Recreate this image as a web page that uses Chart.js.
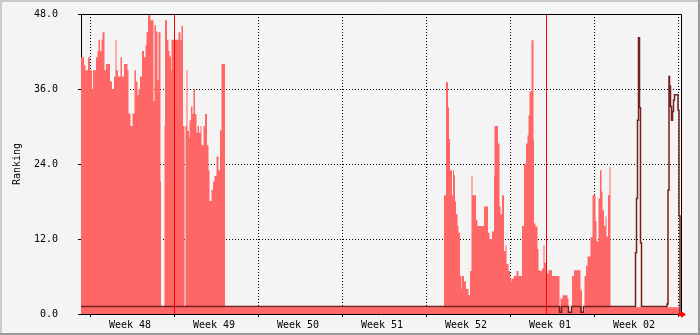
<!DOCTYPE html>
<html>
<head>
<meta charset="utf-8">
<title>Ranking</title>
<script src="https://cdn.jsdelivr.net/npm/chart.js@4.4.1/dist/chart.umd.min.js"></script>
<style>
  body { margin: 0; background: #f4f4f4; }
  canvas { display: block; }
</style>
</head>
<body>
<canvas id="rankChart" width="700" height="335"></canvas>
<script>
// time axis: hours counted from Sun 23 Nov 2008 06:00 (50 days shown)
const weekLabels = ['Week 48', 'Week 49', 'Week 50', 'Week 51', 'Week 52', 'Week 01', 'Week 02'];
const weekLabelHours = [98, 266, 434, 602, 770, 938, 1106];
const weekStartHours = [18, 186, 354, 522, 690, 858, 1026, 1194];
const monthStartHours = [186, 930]; // 1 Dec, 1 Jan
const yTicks = [0, 12, 24, 36, 48];

// area (light red), each value holds until the next hour mark
const areaHours = [0, 6, 9, 14, 18, 22, 24, 30, 33, 35, 38, 41, 43, 47, 50, 58, 62, 66, 69, 71,
  74, 79, 82, 86, 93, 95, 99, 103, 107, 110, 113, 115, 118, 122, 126, 129, 131, 134, 139, 145,
  147, 150, 153, 155, 159, 160, 167, 168, 172, 175, 177, 180, 181, 195, 199, 201, 204, 207, 209, 211,
  213, 216, 217, 220, 223, 225, 228, 231, 233, 236, 239, 241, 245, 248, 252, 255, 257, 261, 264, 267,
  271, 275, 278, 281, 288,
  726, 730, 734, 736, 738, 742, 744, 746, 748, 750, 753, 755, 758, 761, 762, 766, 770, 775, 778, 781,
  783, 790, 793, 806, 814, 817, 822, 826, 827, 834, 837, 839, 842, 846, 849, 851, 855, 858, 861, 862,
  866, 871, 875, 882, 886, 890, 893, 895, 897, 901, 905, 906, 909, 913, 915, 918, 922, 925, 927, 930,
  935, 942, 957, 959, 963, 973, 975, 982, 986, 999, 1002, 1007, 1010, 1013, 1019, 1023, 1029, 1031, 1035, 1038,
  1041, 1043, 1046, 1049, 1051, 1054, 1057, 1059, 1198, 1200];
const areaValues = [41.1, 39.8, 39.0, 41.1, 39.0, 36.0, 39.0, 41.1, 42.1, 43.9, 42.1, 43.9, 45.1, 39.0, 40.0, 37.2, 36.0, 38.0, 43.9, 39.0,
  38.0, 41.1, 38.0, 40.0, 39.0, 32.1, 30.1, 32.1, 39.0, 37.2, 35.0, 36.0, 38.0, 42.1, 41.1, 43.0, 45.1, 47.8, 47.0, 34.1,
  46.2, 45.2, 37.4, 45.1, 21.2, 1.1, 30.1, 47.0, 43.9, 42.1, 41.2, 39.0, 43.9, 45.1, 43.9, 46.1, 30.1, 1.1, 30.1, 39.0,
  29.3, 28.2, 31.0, 33.2, 32.0, 36.0, 32.0, 29.0, 30.1, 29.0, 30.1, 27.0, 30.1, 32.0, 27.0, 23.0, 18.1, 19.9, 21.2, 22.1,
  25.2, 23.0, 29.4, 40.0, 1.1,
  19.0, 37.1, 33.1, 28.0, 23.0, 19.0, 23.0, 22.2, 18.0, 16.0, 14.1, 13.0, 6.1, 4.0, 6.1, 5.2, 4.0, 3.0, 6.9, 22.1,
  19.0, 15.0, 14.1, 17.2, 13.0, 12.0, 13.2, 22.1, 30.1, 27.3, 17.2, 16.0, 19.0, 10.1, 11.0, 8.0, 6.9, 5.7, 5.2, 5.7,
  6.1, 6.9, 6.1, 14.1, 24.0, 27.3, 28.6, 31.8, 35.6, 43.8, 27.8, 14.5, 14.0, 10.4, 7.0, 6.9, 7.3, 11.0, 8.2, 6.5,
  7.0, 6.1, 0.3, 2.5, 3.0, 2.5, 0.3, 6.1, 7.0, 3.8, 0.3, 6.1, 7.7, 9.2, 12.3, 19.0, 14.9, 11.6, 18.5, 23.0,
  19.6, 16.6, 14.1, 15.6, 12.4, 19.0, 23.5, 1.1, 0, 0];

// dark line
const lineHours = [0, 957, 961, 975, 981, 1000, 1005, 1109, 1111, 1113, 1115, 1117, 1119, 1121,
  1172, 1174, 1176, 1177, 1179, 1181, 1183, 1185, 1187, 1194, 1196, 1198, 1200];
const lineValues = [1.2, 0.3, 1.2, 0.3, 1.2, 0.3, 1.2, 9.8, 18.5, 31.0, 44.2, 33.0, 11.4, 1.2,
  1.6, 19.8, 38.0, 36.5, 33.2, 31.0, 32.4, 34.2, 35.1, 32.6, 15.7, 0, 0];

const ctx = document.getElementById('rankChart').getContext('2d');
const font = { family: 'DejaVu Sans Mono', size: 10 };

// background, 3d frame, plot border, month lines, axis arrow
const rrdFrame = {
    id: 'rrdFrame',
    beforeDraw(chart) {
        const c = chart.ctx, w = chart.width, h = chart.height;
        c.save();
        c.fillStyle = '#f4f4f4';
        c.fillRect(0, 0, w, h);
        c.fillStyle = '#cbcbcb';
        c.fillRect(0, 0, w, 2);
        c.fillRect(0, 0, 2, h);
        c.fillStyle = '#999999';
        c.fillRect(0, h - 2, w, 2);
        c.fillRect(w - 2, 0, 2, h);
        c.restore();
    },
    afterDraw(chart) {
        const c = chart.ctx, a = chart.chartArea, x = chart.scales.x;
        c.save();
        c.lineWidth = 1;
        c.strokeStyle = '#ff0000';
        monthStartHours.forEach(hr => {
            const px = Math.round(x.getPixelForValue(hr)) + 0.5;
            c.beginPath();
            c.moveTo(px, a.top);
            c.lineTo(px, a.bottom);
            c.stroke();
        });
        c.strokeStyle = '#000';
        c.beginPath();
        c.moveTo(a.left, a.top + 0.5);
        c.lineTo(a.right + 0.5, a.top + 0.5);
        c.lineTo(a.right + 0.5, a.bottom);
        c.stroke();
        // arrow at the end of the x axis
        c.fillStyle = '#ff0000';
        c.fillRect(a.right - 3, a.bottom - 1, 4, 3);
        c.beginPath();
        c.moveTo(a.right, a.bottom - 3);
        c.lineTo(a.right + 5, a.bottom + 0.5);
        c.lineTo(a.right, a.bottom + 4);
        c.closePath();
        c.fill();
        c.restore();
    }
};

const chart = new Chart(ctx, {
    type: 'line',
    data: {
        datasets: [{
            label: 'Rank',
            data: lineHours.map((h, i) => ({ x: h, y: lineValues[i] })),
            borderColor: '#75201f',
            borderWidth: 1.5,
            stepped: true,
            fill: false,
            pointRadius: 0,
            order: 1
        }, {
            label: 'Ranking',
            data: areaHours.map((h, i) => ({ x: h, y: areaValues[i] })),
            backgroundColor: '#ff6666',
            borderWidth: 0,
            stepped: true,
            fill: 'origin',
            pointRadius: 0,
            order: 2
        }]
    },
    options: {
        responsive: false,
        animation: false,
        layout: { padding: { top: 14, right: 19, left: 0, bottom: 0 } },
        plugins: { legend: { display: false }, tooltip: { enabled: false } },
        scales: {
            x: {
                type: 'linear',
                min: 0,
                max: 1200,
                z: 1,
                afterBuildTicks: s => {
                    s.ticks = weekStartHours.concat(weekLabelHours).sort((a, b) => a - b).map(v => ({ value: v }));
                },
                afterFit: s => {
                    s.height = 21;
                    s.paddingLeft = 0;
                    s.paddingRight = 0;
                },
                ticks: {
                    autoSkip: false,
                    maxRotation: 0,
                    padding: 2,
                    color: '#000',
                    font: font,
                    callback: v => {
                        const i = weekLabelHours.indexOf(v);
                        return i >= 0 ? weekLabels[i] : '';
                    }
                },
                grid: {
                    color: c => weekStartHours.includes(c.tick && c.tick.value) ? '#000' : 'rgba(0,0,0,0)',
                    tickColor: c => weekStartHours.includes(c.tick && c.tick.value) ? '#000' : 'rgba(0,0,0,0)',
                    tickLength: 3,
                    tickBorderDash: []
                },
                border: { color: '#000', dash: [1, 2] }
            },
            y: {
                min: 0,
                max: 48,
                z: 1,
                afterBuildTicks: s => { s.ticks = yTicks.map(v => ({ value: v })); },
                afterFit: s => {
                    s.width = 81;
                    s.paddingTop = 0;
                    s.paddingBottom = 0;
                },
                ticks: {
                    padding: 20,
                    color: '#000',
                    font: font,
                    callback: v => v.toFixed(1)
                },
                grid: { color: '#000', tickColor: '#000', tickLength: 3, tickBorderDash: [] },
                border: { color: '#000', dash: [1, 2] },
                title: {
                    display: true,
                    text: 'Ranking',
                    color: '#000',
                    font: font,
                    padding: { top: 11, bottom: 0 }
                }
            }
        }
    },
    plugins: [rrdFrame]
});
</script>
</body>
</html>
